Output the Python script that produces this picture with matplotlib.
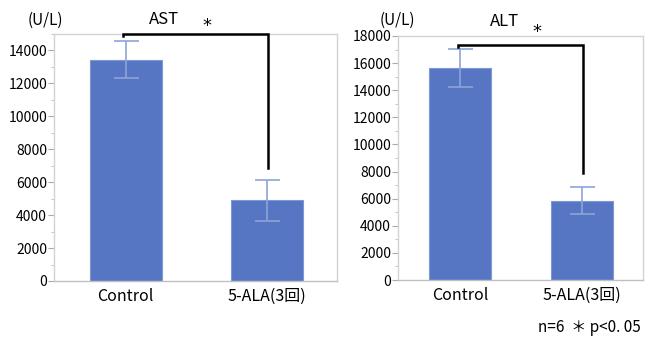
import matplotlib
matplotlib.use("Agg")
import matplotlib.pyplot as plt
from matplotlib.ticker import MultipleLocator

plt.rcParams['font.family'] = ['Noto Sans CJK JP', 'DejaVu Sans']

categories = ["Control", "5-ALA(3回)"]
ast_mean = [13450, 4900]
ast_err = [1120, 1230]
alt_mean = [15650, 5850]
alt_err = [1400, 980]

W, H = 649, 337
fig = plt.figure(figsize=(W / 100, H / 100), dpi=100)

bar_color = "#5676c4"
err_color = "#8ea3d8"
spine_color = "#d4d4d4"


def make_axes(l, t, r, b):
    return fig.add_axes([l / W, (H - b) / H, (r - l) / W, (b - t) / H])


def draw(ax, means, errs, ymax, title, title_x, star_x, ul_x,
         br_y, br_left_drop, br_right_end, title_y, star_y):
    x = [0, 1]
    ax.bar(x, means, width=0.51, color=bar_color, edgecolor="#7f97d4",
           linewidth=0.8, zorder=2)
    ax.errorbar(x, means, yerr=errs, fmt="none", ecolor=err_color,
                elinewidth=1.2, capsize=9, capthick=1.2, zorder=3)
    ax.set_xlim(-0.51, 1.5)
    ax.set_ylim(0, ymax)
    ax.yaxis.set_major_locator(MultipleLocator(2000))
    ax.yaxis.set_minor_locator(MultipleLocator(1000))
    ax.set_xticks(x)
    ax.set_xticklabels(categories, fontsize=11.5)
    ax.tick_params(axis="x", length=0, pad=5)
    ax.tick_params(axis="y", which="major", length=4, color="#aaaaaa",
                   labelsize=10, pad=1)
    ax.tick_params(axis="y", which="minor", length=2, color="#bbbbbb")
    for s in ax.spines.values():
        s.set_color(spine_color)
        s.set_linewidth(1.0)
    ax.spines["bottom"].set_color("#c0c0c0")
    # significance bracket
    ax.plot([-0.02, -0.02, 1.01, 1.01],
            [br_y - br_left_drop, br_y, br_y, br_right_end],
            color="black", linewidth=1.8, clip_on=False, zorder=5,
            solid_joinstyle="miter")
    fig.text(title_x / W, 1 - title_y / H, title, fontsize=12,
             ha="center", va="center")
    fig.text(star_x / W, 1 - star_y / H, "*", fontsize=13,
             ha="center", va="center", family="DejaVu Sans")
    fig.text(ul_x / W, 1 - 20 / H, "(U/L)", fontsize=11,
             ha="center", va="center")


ax1 = make_axes(54, 34, 337, 281)
draw(ax1, ast_mean, ast_err, 15000, "AST", 164, 207, 45,
     15000, 120, 6880, 20, 26)

ax2 = make_axes(398, 36, 643, 280)
draw(ax2, alt_mean, alt_err, 18000, "ALT", 504, 537, 397,
     17350, 180, 7900, 22, 32)

fig.text(641 / W, 1 - 327 / H, "n=6  ＊ p<0. 05", fontsize=11,
         ha="right", va="center")

fig.savefig("out.png", dpi=100)
